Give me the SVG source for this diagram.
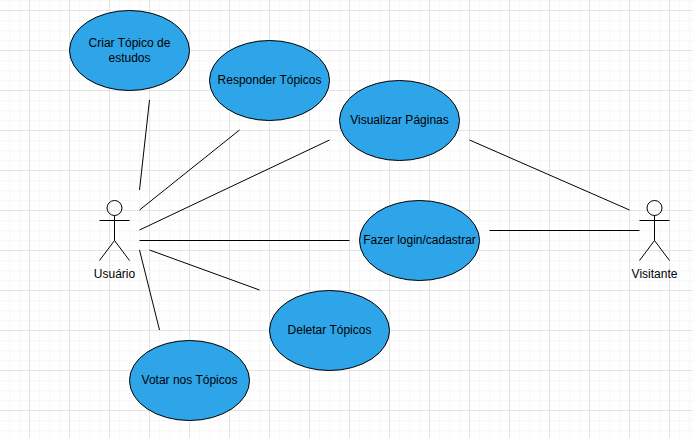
<svg xmlns="http://www.w3.org/2000/svg" width="693" height="438" viewBox="0 0 693 438">
<defs>
<style>
text{font-family:"Liberation Sans",Arial,sans-serif;font-size:12px;fill:#000;text-anchor:middle}
.uc{fill:#2ea5e8;stroke:#000;stroke-width:1}
.a{fill:#fff;fill-opacity:0;stroke:#000;stroke-width:1}
.c{stroke:#000;stroke-width:1;fill:none}
</style>
<pattern id="minor" x="-1" y="0" width="10" height="10" patternUnits="userSpaceOnUse"><path d="M10 .5H0M.5 0V10" stroke="#f7f7f7" stroke-width="1.500" fill="none"/></pattern>
<pattern id="major" x="-11" y="-30" width="40" height="40" patternUnits="userSpaceOnUse"><path d="M40 .5H0M.5 0V40" stroke="#e4e4e4" stroke-width="1" fill="none"/></pattern>
<g id="stick"><circle cx="0" cy="-12.500" r="7.500" class="a"/><path class="a" d="M0-5V20M-15 0H15M0 20L-15 40M0 20L15 40"/></g>
</defs>
<rect width="693" height="438" fill="#fff"/>
<rect width="693" height="438" fill="url(#minor)"/>
<rect width="693" height="438" fill="url(#major)"/>
<g id="connectors" class="c">
<path d="M149.500 100L139.500 190"/>
<path d="M239.500 130L139.500 210"/>
<path d="M329.500 140L139.500 230"/>
<path d="M139.500 240.500H349.500"/>
<path d="M149.500 250L259.500 290"/>
<path d="M139.500 250L159.500 330"/>
<path d="M469.500 140L629.500 210"/>
<path d="M489.500 230.500H639.500"/>
</g>
<g id="criar"><ellipse class="uc" cx="129.500" cy="50.500" rx="60" ry="40"/><text x="129.500" y="47">Criar Tópico de</text><text x="129.500" y="62">estudos</text></g>
<g id="responder"><ellipse class="uc" cx="269.500" cy="80.500" rx="60" ry="40"/><text x="269.500" y="84">Responder Tópicos</text></g>
<g id="visualizar"><ellipse class="uc" cx="399.500" cy="120.500" rx="60" ry="40"/><text x="399.500" y="124">Visualizar Páginas</text></g>
<g id="fazer"><ellipse class="uc" cx="419.500" cy="240.500" rx="60" ry="40"/><text x="419.500" y="244">Fazer login/cadastrar</text></g>
<g id="deletar"><ellipse class="uc" cx="329.500" cy="330.500" rx="60" ry="40"/><text x="329.500" y="334">Deletar Tópicos</text></g>
<g id="votar"><ellipse class="uc" cx="189.500" cy="380.500" rx="60" ry="40"/><text x="189.500" y="384">Votar nos Tópicos</text></g>
<g id="usuario"><use href="#stick" x="114.500" y="220.500"/><text x="114.500" y="278">Usuário</text></g>
<g id="visitante"><use href="#stick" x="654.500" y="220.500"/><text x="654.500" y="278">Visitante</text></g>
</svg>
